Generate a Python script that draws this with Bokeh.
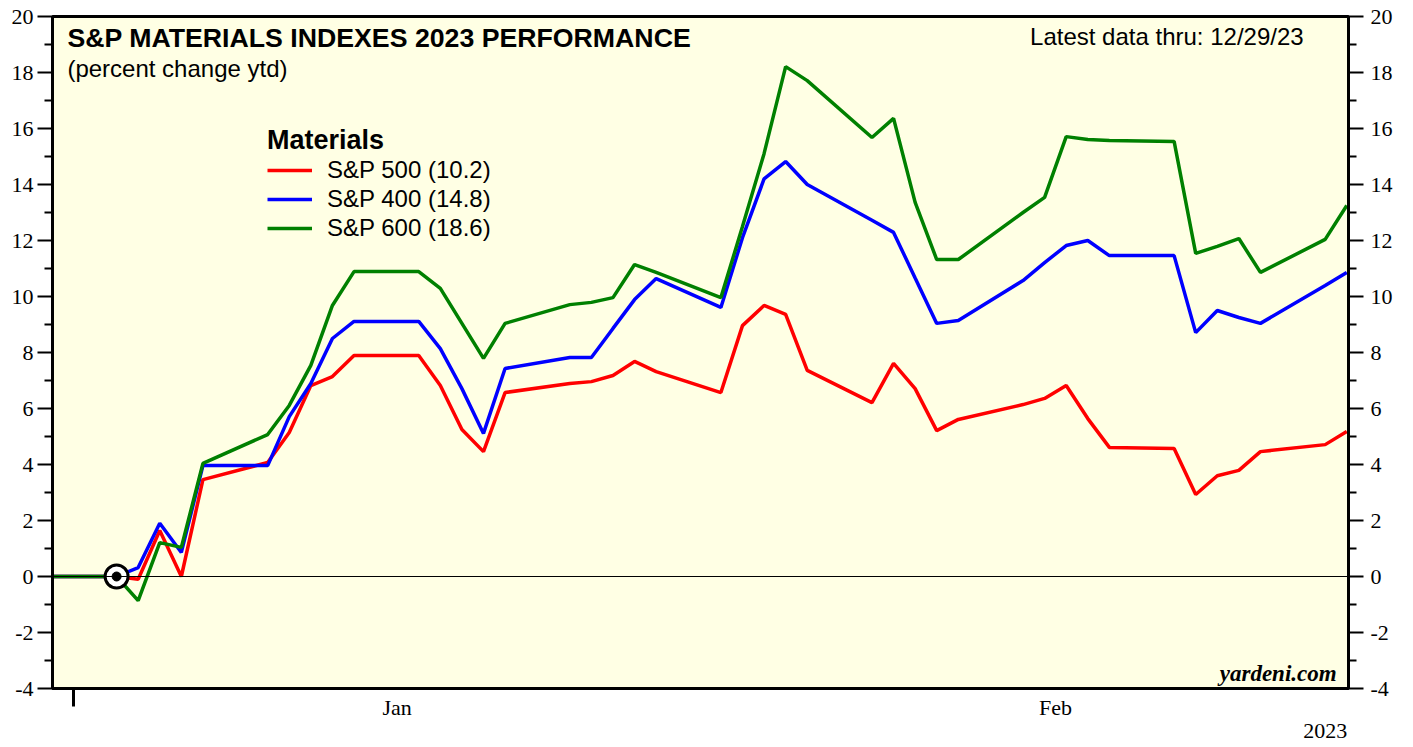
from bokeh.plotting import figure
from bokeh.models import Range1d, FixedTicker, LinearAxis, Span, Legend, LegendItem
from bokeh.core.properties import value
from bokeh.embed import file_html
from bokeh.resources import INLINE

# ---- data (x = day number, 0 = Jan 1) ----
days = [-1, 2, 3, 4, 5, 6, 9, 10, 11, 12, 13, 16, 17, 18, 19, 20, 23, 24, 25, 26, 27,
        30, 31, 32, 33, 34, 37, 38, 39, 40, 41, 44, 45, 46, 47, 48, 51, 52, 53, 54, 55, 58, 59]
sp500 = [0, 0, -0.1, 1.64, 0, 3.46, 4.07, 5.14, 6.82, 7.14, 7.89, 7.89, 6.82, 5.25, 4.46, 6.57,
         6.89, 6.96, 7.18, 7.68, 7.32, 6.57, 8.96, 9.68, 9.36, 7.36, 6.21, 7.61, 6.71, 5.21, 5.61,
         6.14, 6.36, 6.82, 5.64, 4.61, 4.57, 2.93, 3.6, 3.79, 4.46, 4.71, 5.18]
sp400 = [0, 0, 0.32, 1.9, 0.86, 3.96, 3.96, 5.71, 6.89, 8.5, 9.11, 9.11, 8.14, 6.71, 5.11, 7.43,
         7.82, 7.82, 8.86, 9.89, 10.64, 9.61, 12.1, 14.2, 14.82, 14.0, 12.72, 12.29, 10.66, 9.04, 9.14,
         10.57, 11.21, 11.82, 12.0, 11.46, 11.46, 8.71, 9.5, 9.25, 9.04, 10.39, 10.86]
sp600 = [0, 0, -0.86, 1.21, 1.04, 4.04, 5.07, 6.11, 7.54, 9.68, 10.89, 10.89, 10.29, 9.04, 7.79, 9.04,
         9.71, 9.79, 9.96, 11.14, 10.86, 9.96, 12.5, 15.1, 18.21, 17.71, 15.68, 16.36, 13.36, 11.32, 11.32,
         13.0, 13.54, 15.71, 15.61, 15.57, 15.54, 11.54, 11.79, 12.07, 10.86, 12.04, 13.25]
base_day = [2]
base_val = [0]

series_names = ["S&P 500 (10.2)", "S&P 400 (14.8)", "S&P 600 (18.6)"]
series_colors = ["#ff0000", "#0000ff", "#008000"]

y_ticks = [-4, -2, 0, 2, 4, 6, 8, 10, 12, 14, 16, 18, 20]
y_minor = [-3, -1, 1, 3, 5, 7, 9, 11, 13, 15, 17, 19]
x_label_pos = [15, 45.5, 58]
x_label_text = ["Jan", "Feb", "\n2023"]
year_tick = [0]

title_text = "S&P MATERIALS INDEXES 2023 PERFORMANCE"
subtitle_text = "(percent change ytd)"
latest_text = "Latest data thru: 12/29/23"
legend_title = "Materials"
source_text = "yardeni.com"

SANS = "Liberation Sans"
SERIF = "Liberation Serif"

p = figure(width=1413, height=747, output_backend="svg", toolbar_location=None,
           x_range=Range1d(-0.97, 59.08), y_range=Range1d(-4, 20),
           min_border_left=52, min_border_right=65, min_border_top=16, min_border_bottom=59)
p.background_fill_color = "#ffffe4"
p.border_fill_color = "white"
p.outline_line_color = "black"
p.outline_line_width = 3
p.grid.visible = False

# x axis
xa = p.xaxis[0]
xa.ticker = FixedTicker(ticks=x_label_pos, minor_ticks=year_tick)
xa.major_label_overrides = {k: v for k, v in zip(x_label_pos, x_label_text)}
xa.major_tick_out = 0
xa.major_tick_in = 0
xa.minor_tick_out = 18
xa.minor_tick_in = 0
xa.minor_tick_line_width = 3
xa.minor_tick_line_color = "black"
xa.axis_line_width = 3
xa.axis_line_color = "black"
xa.major_label_text_font = SERIF
xa.major_label_text_font_size = "22px"
xa.major_label_text_color = "black"
xa.major_label_standoff = -12
xa.major_label_text_line_height = 0.95

# y axes
def style_y(ax, standoff):
    ax.ticker = FixedTicker(ticks=y_ticks, minor_ticks=y_minor)
    ax.major_label_overrides = {t: str(t) for t in y_ticks}
    ax.major_tick_out = 15
    ax.major_tick_in = 0
    ax.minor_tick_out = 8
    ax.minor_tick_in = 0
    ax.major_tick_line_width = 2
    ax.minor_tick_line_width = 2
    ax.major_tick_line_color = "black"
    ax.minor_tick_line_color = "black"
    ax.axis_line_width = 3
    ax.axis_line_color = "black"
    ax.major_label_text_font = SERIF
    ax.major_label_text_font_size = "22px"
    ax.major_label_text_color = "black"
    ax.major_label_standoff = standoff

style_y(p.yaxis[0], 4)
ry = LinearAxis()
style_y(ry, 7)
p.add_layout(ry, "right")

p.add_layout(Span(location=0, dimension="width", line_color="black", line_width=1))

renderers = []
for vals, col in zip([sp500, sp400, sp600], series_colors):
    r = p.line(days, vals, line_color=col, line_width=3.5)
    renderers.append(r)

p.scatter(base_day, base_val, size=23, marker="circle", fill_color="white",
          line_color="black", line_width=3)
p.scatter(base_day, base_val, size=9, marker="circle", fill_color="black", line_color="black")

legend = Legend(items=[LegendItem(label=n, renderers=[r]) for n, r in zip(series_names, renderers)],
                location=(215, 446), title=legend_title)
legend.title_text_font = SANS
legend.title_text_font_style = "bold"
legend.title_text_font_size = "27px"
legend.title_text_color = "black"
legend.title_standoff = 0
legend.label_text_font = SANS
legend.label_text_font_size = "24px"
legend.label_text_color = "black"
legend.glyph_width = 45
legend.glyph_height = 28
legend.label_height = 28
legend.label_standoff = 15
legend.spacing = 1
legend.padding = 0
legend.margin = 0
legend.border_line_alpha = 0
legend.background_fill_alpha = 0
p.add_layout(legend)

p.text(x=[-0.28], y=[19.25], text=[title_text], text_font=value(SANS), text_font_style="bold",
       text_font_size="26.7px", text_color="black", text_baseline="middle", text_align="left")
p.text(x=[-0.28], y=[18.14], text=[subtitle_text], text_font=value(SANS),
       text_font_size="24px", text_color="black", text_baseline="middle", text_align="left")
p.text(x=[57.0], y=[19.27], text=[latest_text], text_font=value(SANS),
       text_font_size="24px", text_color="black", text_baseline="middle", text_align="right")
p.text(x=[58.53], y=[-3.46], text=[source_text], text_font=value(SERIF), text_font_style="bold italic",
       text_font_size="23px", text_color="black", text_baseline="middle", text_align="right")

open("out.html", "w").write(file_html(p, INLINE))
